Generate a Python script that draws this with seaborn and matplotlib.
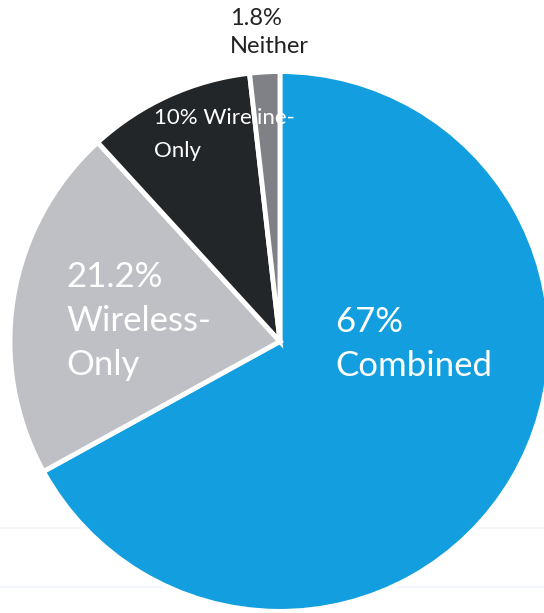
import matplotlib
matplotlib.use("Agg")
import matplotlib.pyplot as plt
import seaborn as sns

# Household connection types (share of total, %)
categories = ["Combined", "Wireless-Only", "Wireline-Only", "Neither"]
shares = [67.0, 21.2, 10.0, 1.8]
slice_colors = ["#139fdf", "#bfc0c6", "#232629", "#7f8186"]

sns.set_theme(style="white")
plt.rcParams["font.family"] = ["Lato", "DejaVu Sans"]

fig = plt.figure(figsize=(5.44, 6.13), dpi=100)
ax = fig.add_axes([0, 0, 1, 1])
ax.set_axis_off()

# faint scan rules behind the pie
for yy in (-0.69, -0.91):
    ax.axhline(yy, color="#f0f4fb", lw=1.2, zorder=0)

wedges, _ = ax.pie(
    shares,
    colors=slice_colors,
    startangle=90,
    counterclock=False,
    radius=1.0,
    wedgeprops=dict(edgecolor="white", linewidth=3.5),
)

ax.set_xlim(-1.037, 0.978)
ax.set_ylim(-1.006, 1.265)
ax.set_aspect("auto")

lab = {c: f"{v:g}%" for c, v in zip(categories, shares)}

ax.text(0.205, -0.01, f"{lab['Combined']}\nCombined", color="white",
        fontsize=25, ha="left", va="center", linespacing=1.46)
ax.text(-0.79, 0.076, f"{lab['Wireless-Only']}\nWireless-\nOnly", color="white",
        fontsize=25, ha="left", va="center", linespacing=1.46)
ax.text(-0.468, 0.768, f"{lab['Wireline-Only']} Wireline-\nOnly", color="white",
        fontsize=16, ha="left", va="center", linespacing=1.8)
ax.text(-0.185, 1.144, f"{lab['Neither']}\nNeither", color="#222222",
        fontsize=17, ha="left", va="center", linespacing=1.4)

fig.savefig("out.png", dpi=100)
